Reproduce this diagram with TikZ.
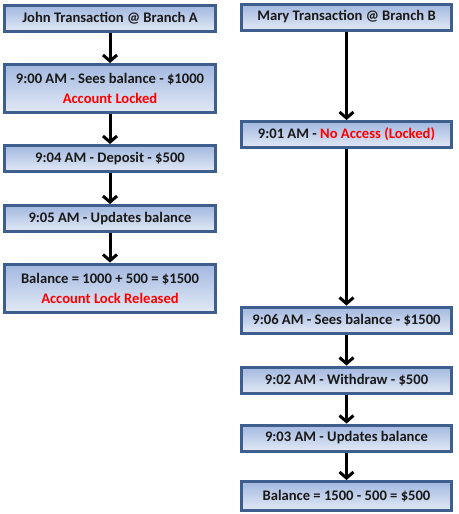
\documentclass[tikz,border=0pt]{standalone}
\usepackage{fontspec}
\setmainfont{Carlito}
\usetikzlibrary{arrows.meta}
\definecolor{boxborder}{HTML}{3E5F8E}
\definecolor{boxtop}{HTML}{A2B8E0}
\definecolor{boxbot}{HTML}{E2E9F5}
\definecolor{txtred}{HTML}{FF0000}
\tikzset{
  flowbox/.style={draw=boxborder, line width=3pt, top color=boxtop, bottom color=boxbot,
    inner sep=0pt, align=center, font=\fontsize{14.6}{20}\selectfont\bfseries, text=black!90},
  leftbox/.style={flowbox, minimum width=211pt},
  rightbox/.style={flowbox, minimum width=210pt},
  onebox/.style={minimum height=26pt},
  twobox/.style={minimum height=48pt},
  flowarrow/.style={line width=3pt, -{Straight Barb[length=6pt,width=14pt]}},
}
\begin{document}
\begin{tikzpicture}[x=1pt,y=1pt]
\useasboundingbox (0,0) rectangle (458,-514);
% left column
\node[leftbox,onebox] (l1) at (110,-18.5) {John Transaction @ Branch A};
\node[leftbox,twobox] (l2) at (110,-88.5) {9:00 AM - Sees balance - \$1000\\\textcolor{txtred}{Account Locked}};
\node[leftbox,onebox] (l3) at (110,-158.5) {9:04 AM - Deposit - \$500};
\node[leftbox,onebox] (l4) at (110,-218.5) {9:05 AM - Updates balance};
\node[leftbox,twobox] (l5) at (110,-288) {Balance = 1000 + 500 = \$1500\\\textcolor{txtred}{Account Lock Released}};
% right column
\node[rightbox,onebox] (r1) at (346.5,-17) {Mary Transaction @ Branch B};
\node[rightbox,onebox] (r2) at (346.5,-134.5) {9:01 AM - \textcolor{txtred}{No Access (Locked)}};
\node[rightbox,onebox] (r3) at (346.5,-320) {9:06 AM - Sees balance - \$1500};
\node[rightbox,onebox] (r4) at (346.5,-380) {9:02 AM - Withdraw - \$500};
\node[rightbox,onebox] (r5) at (346.5,-438) {9:03 AM - Updates balance};
\node[rightbox,onebox,minimum height=29pt] (r6) at (346.5,-496) {Balance = 1500 - 500 = \$500};
% arrows
\draw[flowarrow] (l1.south) -- (l2.north);
\draw[flowarrow] (l2.south) -- (l3.north);
\draw[flowarrow] (l3.south) -- (l4.north);
\draw[flowarrow] (l4.south) -- (l5.north);
\draw[flowarrow] (r1.south) -- (r2.north);
\draw[flowarrow] (r2.south) -- (r3.north);
\draw[flowarrow] (r3.south) -- (r4.north);
\draw[flowarrow] (r4.south) -- (r5.north);
\draw[flowarrow] (r5.south) -- (r6.north);
\end{tikzpicture}
\end{document}
